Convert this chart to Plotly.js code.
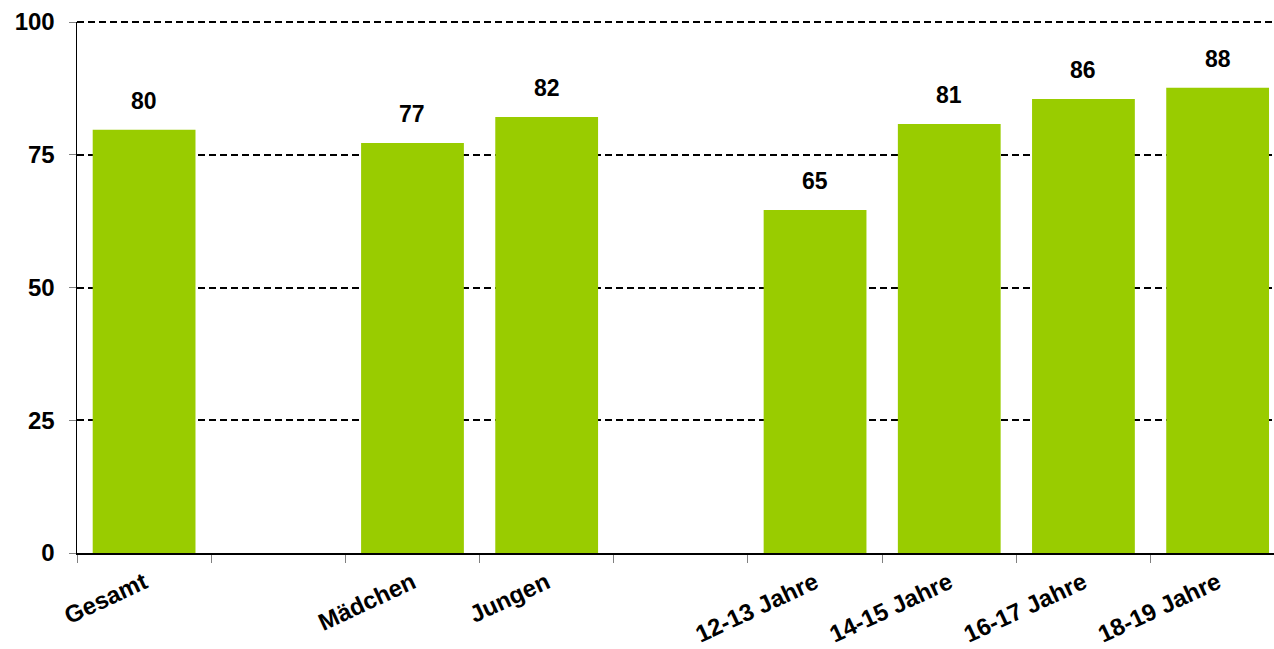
<!DOCTYPE html>
<html>
<head>
<meta charset="utf-8">
<script src="https://cdn.plot.ly/plotly-3.0.1.min.js"></script>
<style>html,body{margin:0;padding:0;background:#fff;}#chart{width:1274px;height:649px;}</style>
</head>
<body>
<div id="chart"></div>
<script>
const categories = ["Gesamt", " ", "Mädchen", "Jungen", "  ", "12-13 Jahre", "14-15 Jahre", "16-17 Jahre", "18-19 Jahre"];
const values = [79.7, null, 77.2, 82.1, null, 64.6, 80.8, 85.5, 87.6];
const labels = ["80", "", "77", "82", "", "65", "81", "86", "88"];
const yTicks = [0, 25, 50, 75, 100];

const fontFam = '"Liberation Sans", Arial, sans-serif';

const annotations = [];
categories.forEach((c, i) => {
  if (values[i] === null) return;
  annotations.push({
    x: c, y: values[i], xref: 'x', yref: 'y',
    text: labels[i], showarrow: false,
    yanchor: 'bottom', yshift: 14,
    font: {family: fontFam, size: 23, color: '#000', weight: 'bold'}
  });
});

const trace = {
  type: 'bar',
  x: categories,
  y: values,
  marker: {color: '#99CC00'},
  hoverinfo: 'skip'
};

const layout = {
  width: 1274, height: 649,
  margin: {l: 77, r: 0, t: 22, b: 96},
  paper_bgcolor: '#fff', plot_bgcolor: '#fff',
  showlegend: false,
  bargap: 0.234,
  font: {family: fontFam, size: 23, color: '#000', weight: 'bold'},
  xaxis: {
    type: 'category',
    range: [-0.5, 8.42],
    tickson: 'boundaries',
    ticks: 'outside', ticklen: 8, tickcolor: '#808080', tickwidth: 1,
    tickangle: -25,
    ticklabelstandoff: 5,
    showline: true, linecolor: '#000', linewidth: 1.5,
    showgrid: false,
    tickfont: {family: fontFam, size: 24, color: '#000', weight: 'bold'},
    fixedrange: true
  },
  yaxis: {
    range: [0, 100],
    tickvals: yTicks,
    ticks: 'outside', ticklen: 7, tickcolor: '#808080', tickwidth: 1,
    ticklabelstandoff: 9,
    showline: true, linecolor: '#000', linewidth: 1.5,
    showgrid: true, gridcolor: '#000', gridwidth: 2, griddash: '7px,4px',
    zeroline: false,
    tickfont: {family: fontFam, size: 24, color: '#000', weight: 'bold'},
    fixedrange: true
  },
  shapes: [{
    type: 'line', xref: 'paper', yref: 'paper', x0: 0, x1: 1, y0: 1, y1: 1,
    line: {color: '#000', width: 2, dash: '7px,4px'}, layer: 'above'
  }],
  annotations: annotations
};

Plotly.newPlot('chart', [trace], layout, {displayModeBar: false, staticPlot: true});
</script>
</body>
</html>
